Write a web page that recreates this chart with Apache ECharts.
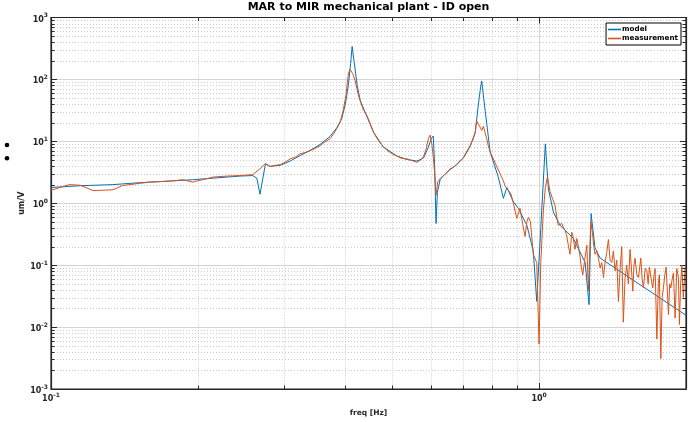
<!DOCTYPE html>
<html>
<head>
<meta charset="utf-8">
<script src="https://cdn.jsdelivr.net/npm/echarts@6/dist/echarts.min.js"></script>
<style>
  html, body { margin: 0; padding: 0; background: #fff; }
  #chart { width: 695px; height: 422px; }
</style>
</head>
<body>
<div id="chart"></div>
<script>
// Plant model frequency response (Hz, um/V)
const modelFreq = [0.100, 0.115, 0.134, 0.152, 0.178, 0.195, 0.209, 0.244, 0.259, 0.264, 0.268, 0.275, 0.281, 0.295, 0.309, 0.324, 0.339, 0.356, 0.373, 0.385, 0.394, 0.401, 0.407, 0.411, 0.414, 0.418, 0.424, 0.430, 0.444, 0.458, 0.479, 0.511, 0.536, 0.562, 0.580, 0.593, 0.601, 0.607, 0.611, 0.615, 0.619, 0.627, 0.637, 0.657, 0.678, 0.700, 0.722, 0.740, 0.751, 0.759, 0.763, 0.768, 0.776, 0.794, 0.825, 0.845, 0.859, 0.886, 0.907, 0.944, 0.973, 0.989, 1.008, 1.030, 1.045, 1.070, 1.104, 1.176, 1.243, 1.266, 1.278, 1.302, 1.334, 1.600, 2.000];
const modelMag = [1.80, 1.92, 2.00, 2.15, 2.30, 2.40, 2.50, 2.75, 2.80, 2.55, 1.40, 4.30, 3.95, 4.10, 4.80, 5.90, 7.10, 8.90, 12.0, 16.5, 23, 40, 85, 180, 340, 190, 80, 46, 25, 14, 8.2, 5.8, 5.1, 4.8, 5.4, 8.0, 11.0, 12.2, 4.0, 0.47, 1.5, 2.4, 2.8, 3.5, 4.2, 5.4, 8.2, 14, 40, 75, 94, 60, 30, 6.7, 2.65, 1.20, 1.80, 1.05, 0.83, 0.44, 0.17, 0.026, 0.39, 9.1, 1.7, 0.72, 0.44, 0.27, 0.11, 0.023, 0.68, 0.19, 0.13, 0.05, 0.0155];

// Measured frequency response (Hz, um/V)
const measFreq = [0.100, 0.109, 0.115, 0.122, 0.134, 0.140, 0.152, 0.160, 0.170, 0.178, 0.186, 0.195, 0.209, 0.215, 0.230, 0.244, 0.259, 0.268, 0.275, 0.281, 0.288, 0.295, 0.302, 0.309, 0.317, 0.324, 0.332, 0.339, 0.347, 0.356, 0.364, 0.373, 0.380, 0.385, 0.391, 0.397, 0.402, 0.407, 0.410, 0.415, 0.420, 0.425, 0.430, 0.436, 0.444, 0.450, 0.458, 0.466, 0.479, 0.490, 0.500, 0.511, 0.523, 0.536, 0.548, 0.562, 0.572, 0.579, 0.587, 0.593, 0.598, 0.603, 0.608, 0.612, 0.615, 0.620, 0.627, 0.637, 0.647, 0.657, 0.668, 0.678, 0.690, 0.700, 0.712, 0.722, 0.733, 0.740, 0.745, 0.751, 0.757, 0.763, 0.769, 0.775, 0.781, 0.787, 0.795, 0.806, 0.818, 0.832, 0.845, 0.852, 0.866, 0.876, 0.886, 0.900, 0.914, 0.926, 0.936, 0.944, 0.951, 0.960, 0.966, 0.973, 0.989, 1.000, 1.008, 1.020, 1.030, 1.040, 1.053, 1.065, 1.078, 1.087, 1.095, 1.104, 1.113, 1.122, 1.130, 1.139, 1.148, 1.157, 1.167, 1.172, 1.185, 1.195, 1.204, 1.213, 1.221, 1.229, 1.240, 1.253, 1.262, 1.276, 1.286, 1.295, 1.302, 1.313, 1.323, 1.334, 1.344, 1.355, 1.365, 1.376, 1.387, 1.398, 1.409, 1.420, 1.431, 1.443, 1.454, 1.466, 1.477, 1.488, 1.500, 1.512, 1.524, 1.536, 1.546, 1.556, 1.565, 1.573, 1.586, 1.598, 1.607, 1.616, 1.626, 1.636, 1.650, 1.663, 1.673, 1.683, 1.697, 1.710, 1.720, 1.729, 1.743, 1.755, 1.764, 1.776, 1.787, 1.798, 1.810, 1.821, 1.831, 1.841, 1.852, 1.862, 1.874, 1.885, 1.900, 1.915, 1.930, 1.939, 1.950, 1.961, 1.975, 1.992];
const measMag = [1.62, 2.00, 1.95, 1.60, 1.65, 1.93, 2.10, 2.20, 2.25, 2.30, 2.40, 2.20, 2.50, 2.65, 2.75, 2.80, 2.90, 3.60, 4.40, 3.90, 4.10, 4.20, 4.60, 5.20, 5.60, 6.30, 6.60, 7.00, 7.60, 8.50, 9.80, 11.0, 13.5, 16.0, 20, 32, 55, 128, 145, 125, 95, 62, 45, 33, 26, 20, 14, 11, 8.2, 7.0, 6.3, 5.8, 5.3, 5.2, 4.9, 4.6, 5.0, 5.5, 7.5, 11.0, 12.6, 9.0, 5.0, 2.5, 1.35, 2.2, 2.5, 2.8, 3.1, 3.6, 3.8, 4.3, 4.9, 5.5, 7.0, 8.5, 11, 14, 21.5, 19, 17, 15, 17.5, 17.2, 11, 8.5, 6.5, 5.2, 4.0, 3.0, 2.3, 1.9, 1.6, 1.4, 1.0, 0.57, 0.83, 0.45, 0.29, 0.50, 0.60, 0.50, 0.53, 0.15, 0.11, 0.0053, 0.11, 0.72, 1.8, 2.65, 1.55, 1.2, 0.93, 0.6, 0.44, 0.45, 0.47, 0.40, 0.37, 0.30, 0.21, 0.15, 0.34, 0.31, 0.18, 0.27, 0.20, 0.14, 0.09, 0.07, 0.12, 0.21, 0.038, 0.50, 0.34, 0.20, 0.15, 0.17, 0.13, 0.09, 0.11, 0.063, 0.11, 0.16, 0.26, 0.12, 0.11, 0.17, 0.081, 0.12, 0.026, 0.09, 0.20, 0.012, 0.06, 0.10, 0.05, 0.18, 0.09, 0.038, 0.10, 0.13, 0.07, 0.063, 0.09, 0.13, 0.06, 0.043, 0.09, 0.081, 0.05, 0.093, 0.06, 0.043, 0.07, 0.088, 0.0064, 0.05, 0.07, 0.0031, 0.03, 0.043, 0.07, 0.093, 0.04, 0.016, 0.05, 0.043, 0.06, 0.075, 0.014, 0.088, 0.063, 0.011, 0.05, 0.10, 0.03, 0.094];

const seriesNames = ['model', 'measurement'];
const seriesColors = ['#0072BD', '#D95319'];

const xRange = [0.1, 2];
const yRange = [0.001, 1000];
const minorMultipliers = [2, 3, 4, 5, 6, 7, 8, 9];

const FONT = 'DejaVu Sans';
const AXIS_COLOR = '#262626';

const chart = echarts.init(document.getElementById('chart'), null, { renderer: 'canvas' });

function powerLabel(v) {
  const e = Math.round(Math.log10(v));
  return '{b|10}{s|' + (e < 0 ? '-' + Math.abs(e) : e) + '}';
}

const labelRich = {
  b: { fontFamily: FONT, fontWeight: 'bold', fontSize: 8, color: '#262626', lineHeight: 14, verticalAlign: 'middle' },
  s: { fontFamily: FONT, fontWeight: 'bold', fontSize: 6, color: '#262626', lineHeight: 5, verticalAlign: 'top' }
};

function logAxis(range, pos, showLabels, extra) {
  return Object.assign({
    type: 'log',
    logBase: 10,
    min: range[0],
    max: range[1],
    position: pos,
    axisLine: { show: true, onZero: false, lineStyle: { color: AXIS_COLOR, width: 1.2 } },
    axisTick: { show: true, inside: true, length: 6, lineStyle: { color: AXIS_COLOR, width: 1 } },
    axisLabel: { show: showLabels, showMaxLabel: false, formatter: powerLabel, rich: labelRich },
    splitLine: { show: false },
    minorTick: { show: false },
    minorSplitLine: { show: false }
  }, extra || {});
}

const option = {
  animation: false,
  backgroundColor: '#ffffff',
  title: {
    text: 'MAR to MIR mechanical plant - ID open',
    left: 368.5,
    top: 2,
    textAlign: 'center',
    padding: 0,
    textStyle: { fontFamily: FONT, fontWeight: 'bold', fontSize: 11, color: '#000' }
  },
  legend: {
    data: seriesNames,
    orient: 'vertical',
    right: 14,
    top: 23,
    padding: [2, 3, 2, 2],
    itemGap: 0,
    icon: 'rect',
    itemWidth: 13,
    itemHeight: 1.6,
    backgroundColor: '#fff',
    borderColor: '#000',
    borderWidth: 1,
    borderRadius: 0,
    textStyle: { fontFamily: FONT, fontWeight: 'bold', fontSize: 7.2, lineHeight: 9, color: '#000', padding: [0, 0, 0, -4] }
  },
  grid: {
    left: 51, top: 17.5, width: 635, height: 374.5,
    show: true, borderColor: AXIS_COLOR, borderWidth: 1.2, backgroundColor: '#fff'
  },
  xAxis: [
    logAxis(xRange, 'bottom', true, {
      name: 'freq [Hz]',
      nameLocation: 'middle',
      nameGap: 20,
      nameMoveOverlap: false,
      nameTextStyle: { fontFamily: FONT, fontWeight: 'bold', fontSize: 7.5, color: '#262626' },
      axisLabel: { show: true, showMaxLabel: false, margin: 3, formatter: powerLabel, rich: labelRich },
      splitLine: { show: true, lineStyle: { color: '#d4d4d4', width: 1 } }
    }),
    logAxis(xRange, 'top', false)
  ],
  yAxis: [
    logAxis(yRange, 'left', true, {
      name: 'um/V',
      nameLocation: 'middle',
      nameRotate: 90,
      nameGap: 25,
      nameMoveOverlap: false,
      nameTextStyle: { fontFamily: FONT, fontWeight: 'bold', fontSize: 8, color: '#262626' },
      axisLabel: { show: true, margin: 3, padding: [4, 0, 0, 0], formatter: powerLabel, rich: labelRich },
      splitLine: { show: true, lineStyle: { color: '#d4d4d4', width: 1 } }
    }),
    logAxis(yRange, 'right', false)
  ],
  series: [
    {
      name: seriesNames[0],
      type: 'line',
      xAxisIndex: 0, yAxisIndex: 0,
      data: modelFreq.map((f, i) => [f, modelMag[i]]),
      showSymbol: false,
      symbol: 'none',
      color: seriesColors[0],
      lineStyle: { color: seriesColors[0], width: 1 },
      z: 3
    },
    {
      name: seriesNames[1],
      type: 'line',
      xAxisIndex: 0, yAxisIndex: 0,
      data: measFreq.map((f, i) => [f, measMag[i]]),
      showSymbol: false,
      symbol: 'none',
      color: seriesColors[1],
      lineStyle: { color: seriesColors[1], width: 1 },
      z: 4
    }
  ]
};

chart.setOption(option);

// Minor grid lines and minor ticks at 2..9 x 10^n on both log axes
const toPx = v => chart.convertToPixel({ xAxisIndex: 0 }, v);
const toPy = v => chart.convertToPixel({ yAxisIndex: 0 }, v);
const plotLeft = toPx(xRange[0]), plotRight = toPx(xRange[1]);
const plotBottom = toPy(yRange[0]), plotTop = toPy(yRange[1]);
const deco = [];
const gridStyle = { stroke: '#bdbdbd', lineWidth: 0.8, lineDash: [1, 2] };
const tickStyle = { stroke: AXIS_COLOR, lineWidth: 1 };
const MINOR = 3.5;

function minorValues(range) {
  const out = [];
  const d0 = Math.floor(Math.log10(range[0]));
  const d1 = Math.ceil(Math.log10(range[1]));
  for (let d = d0; d <= d1; d++) {
    minorMultipliers.forEach(m => {
      const v = m * Math.pow(10, d);
      if (v > range[0] * 1.0001 && v < range[1] * 0.9999) out.push(v);
    });
  }
  return out;
}

minorValues(xRange).forEach(v => {
  const x = Math.round(toPx(v)) + 0.5;
  deco.push({ type: 'line', z: 1, silent: true, shape: { x1: x, y1: plotTop, x2: x, y2: plotBottom }, style: gridStyle });
  deco.push({ type: 'line', z: 10, silent: true, shape: { x1: x, y1: plotBottom, x2: x, y2: plotBottom - MINOR }, style: tickStyle });
  deco.push({ type: 'line', z: 10, silent: true, shape: { x1: x, y1: plotTop, x2: x, y2: plotTop + MINOR }, style: tickStyle });
});
minorValues(yRange).forEach(v => {
  const y = Math.round(toPy(v)) + 0.5;
  deco.push({ type: 'line', z: 1, silent: true, shape: { x1: plotLeft, y1: y, x2: plotRight, y2: y }, style: gridStyle });
  deco.push({ type: 'line', z: 10, silent: true, shape: { x1: plotLeft, y1: y, x2: plotLeft + MINOR, y2: y }, style: tickStyle });
  deco.push({ type: 'line', z: 10, silent: true, shape: { x1: plotRight, y1: y, x2: plotRight - MINOR, y2: y }, style: tickStyle });
});

// Two bullet marks in the left margin
deco.push({ type: 'circle', z: 10, silent: true, shape: { cx: 7, cy: 145, r: 2.3 }, style: { fill: '#000' } });
deco.push({ type: 'circle', z: 10, silent: true, shape: { cx: 7, cy: 158.3, r: 2.3 }, style: { fill: '#000' } });

chart.setOption({ graphic: { elements: deco } });
</script>
</body>
</html>
